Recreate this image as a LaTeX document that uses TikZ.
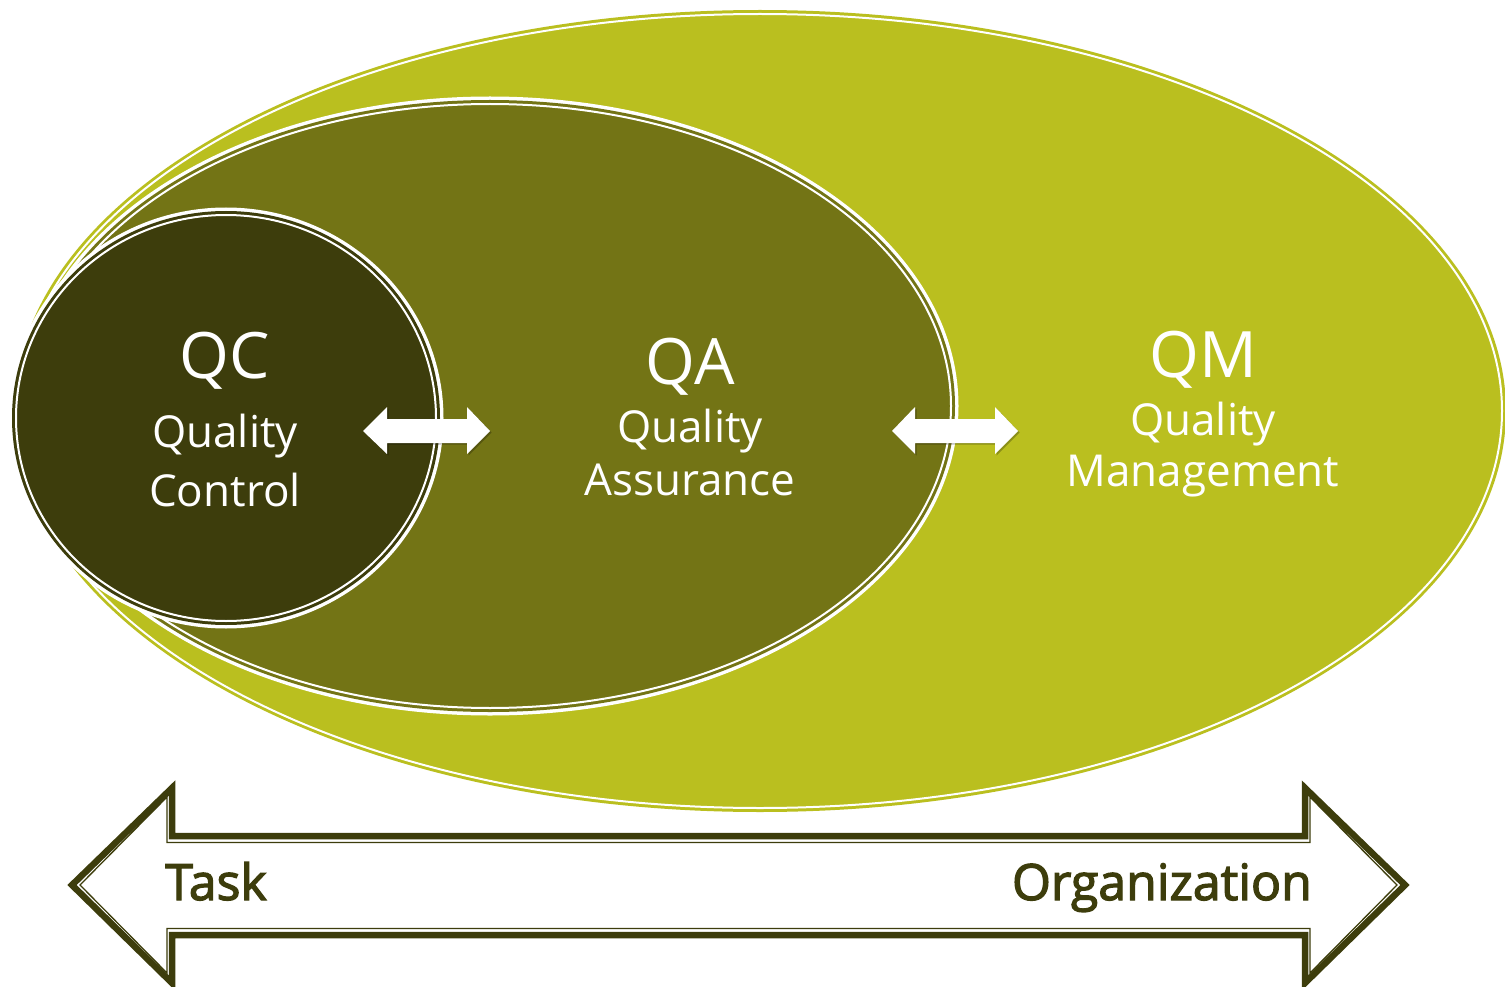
\documentclass[tikz,border=0pt]{standalone}
\usepackage{fontspec}
\setmainfont{Open Sans}
\newfontfamily\taskfont{Open Sans}[FakeBold=2.5]
\definecolor{qm}{RGB}{186,191,31}
\definecolor{qa}{RGB}{115,116,21}
\definecolor{qc}{RGB}{61,61,12}
\tikzset{
  lbl/.style={text=white, font=\fontsize{44}{50}\selectfont, inner sep=0pt, anchor=base},
  big/.style={text=white, font=\fontsize{64}{70}\selectfont, inner sep=0pt, anchor=base},
  axislbl/.style={text=qc, font=\taskfont\fontsize{50}{56}\selectfont, inner sep=0pt},
  smallarrow/.style={fill=white},
  arrowshadow/.style={fill=black, opacity=0.25},
  bigarrow/.style={draw=qc, line width=6.5pt, fill=white, line join=miter},
  bigarrowin/.style={draw=qc, line width=1.3pt, line join=miter},
}
\newcommand\qellipse[5]{%
  \fill[white] (#1,#2) ellipse [x radius=#3pt+3.5pt, y radius=#4pt+3.5pt];
  \fill[#5] (#1,#2) ellipse [x radius=#3pt, y radius=#4pt];
  \draw[white, line width=2pt] (#1,#2) ellipse [x radius=#3pt-4pt, y radius=#4pt-4pt];}
\begin{document}
\begin{tikzpicture}[x=1pt,y=-1pt]
\useasboundingbox (0,0) rectangle (1505,987);
% zones
\qellipse{760}{411}{746}{401}{qm}
\qellipse{490}{406}{465}{306}{qa}
\qellipse{226}{418}{214}{207}{qc}
% small arrows
\fill[arrowshadow] (364.5,432.5) -- (388.5,408.5) -- (388.5,420.5) -- (468.5,420.5) -- (468.5,408.5) -- (491.5,432.5) -- (468.5,455.5) -- (468.5,444.5) -- (388.5,444.5) -- (388.5,455.5) -- cycle;
\fill[smallarrow] (363,431) -- (387,407) -- (387,419) -- (467,419) -- (467,407) -- (490,431) -- (467,454) -- (467,443) -- (387,443) -- (387,454) -- cycle;
\fill[arrowshadow] (893.5,432.5) -- (916.5,408.5) -- (916.5,420.5) -- (996.5,420.5) -- (996.5,408.5) -- (1019.5,432.5) -- (996.5,455.5) -- (996.5,444.5) -- (916.5,444.5) -- (916.5,455.5) -- cycle;
\fill[smallarrow] (892,431) -- (915,407) -- (915,419) -- (995,419) -- (995,407) -- (1018,431) -- (995,454) -- (995,443) -- (915,443) -- (915,454) -- cycle;
% labels
\node[big] (qct) at (225,378) {QC};
\node[lbl] (qc1) at (225,447) {Quality};
\node[lbl] (qc2) at (225,506) {Control};
\node[big] (qat) at (690,384) {QA};
\node[lbl] (qa1) at (690,442) {Quality};
\node[lbl] (qa2) at (690,495) {Assurance};
\node[big] (qmt) at (1203,377) {QM};
\node[lbl] (qm1) at (1203,435) {Quality};
\node[lbl] (qm2) at (1203,486) {Management};
% big axis arrow
\draw[bigarrow] (72,885) -- (172,788) -- (172,836) -- (1305,836) -- (1305,788) -- (1405,885) -- (1305,983) -- (1305,935) -- (172,935) -- (172,983) -- cycle;
\draw[bigarrowin] (80,885) -- (167,797) -- (167,842.5) -- (1310,842.5) -- (1310,797) -- (1397,885) -- (1310,973) -- (1310,928.5) -- (167,928.5) -- (167,973) -- cycle;
\node[axislbl, anchor=base west] (task) at (165,900) {Task};
\node[axislbl, anchor=base east] (org) at (1312,900) {Organization};
\end{tikzpicture}
\end{document}
